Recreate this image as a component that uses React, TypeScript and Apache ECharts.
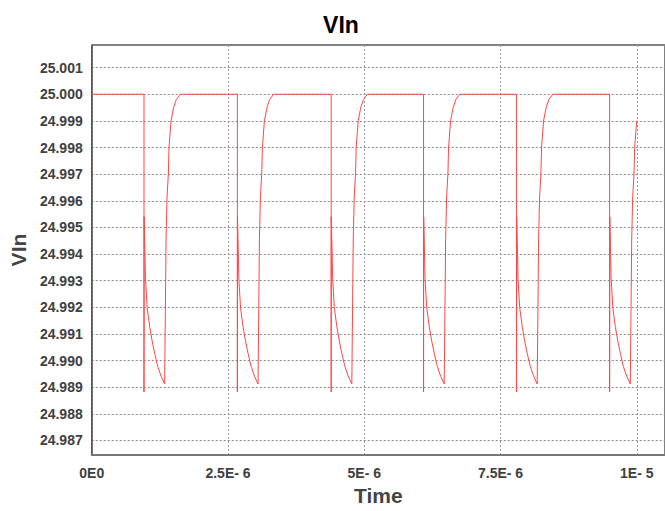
import React, { useEffect, useRef } from "react";
import * as echarts from "echarts";

// Cycle start times (s) where the voltage drops
const cycleStarts = [0.959e-6, 2.672e-6, 4.393e-6, 6.088e-6, 7.794e-6, 9.502e-6];
// Shape of one cycle: offsets (µs) from the drop and the values read there
const cycleOffsetsUs = [0, 0, 0.002, 0.015, 0.027, 0.058, 0.106, 0.149, 0.197, 0.252, 0.314, 0.379, 0.405, 0.423, 0.447, 0.459, 0.496, 0.543, 0.592, 0.665];
const cycleValues = [25.0, 24.98882, 24.9954, 24.99431, 24.99309, 24.99199, 24.99125, 24.99074, 24.99026, 24.98978, 24.98941, 24.98912, 24.99457, 24.99615, 24.997, 24.998, 24.999, 24.9995, 24.9998, 25.0];
const startValue = 25.0;
const endTime = 1e-5;

const xTickValues = [0, 2.5e-6, 5e-6, 7.5e-6, 1e-5];
const xTickLabels = ["0E0", "2.5E- 6", "5E- 6", "7.5E- 6", "1E- 5"];

const FONT = "'Liberation Sans', Arial, sans-serif";

export default function App() {
  const ref = useRef<HTMLDivElement>(null);
  useEffect(() => {
    if (!ref.current) return;
    const chart = echarts.init(ref.current, null, { renderer: "svg" });
    const data: [number, number][] = [[0, startValue]];
    cycleStarts.forEach((s) => {
      cycleOffsetsUs.forEach((o, i) => {
        const t = s + o * 1e-6;
        if (t <= endTime + 1e-12) data.push([t, cycleValues[i]]);
      });
    });
    const plotLeft = 91;
    const plotRight = -3;
    const pxPerSec = 548.6 / 1e-5;
    const plotWidth = 665 - plotLeft - plotRight;
    const xMax = plotWidth / pxPerSec;

    chart.setOption({
      animation: false,
      backgroundColor: "#fff",
      title: {
        text: "VIn",
        left: 336,
        top: 8,
        textAlign: "center",
        textStyle: { fontFamily: FONT, fontWeight: "bold", fontSize: 23, color: "#000" },
      },
      grid: {
        left: plotLeft,
        right: plotRight,
        top: 45,
        bottom: 48,
        show: true,
        borderColor: "#000",
        borderWidth: 1,
        backgroundColor: "#fff",
      },
      xAxis: {
        type: "value",
        min: 0,
        max: xMax,
        interval: 2.5e-6,
        name: "Time",
        nameLocation: "middle",
        nameGap: 27,
        nameTextStyle: { fontFamily: FONT, fontWeight: "bold", fontSize: 21, color: "#444" },
        axisLine: { show: true, lineStyle: { color: "#777", width: 2 } },
        axisTick: { show: false },
        splitLine: { show: true, lineStyle: { color: "#999", type: [2, 2], width: 1 } },
        axisLabel: {
          showMaxLabel: false,
          margin: 11,
          fontFamily: FONT,
          fontWeight: "bold",
          fontSize: 14,
          color: "#404040",
          formatter: (v: number) => {
            const idx = xTickValues.findIndex((t) => Math.abs(t - v) < 1e-9);
            return idx >= 0 ? xTickLabels[idx] : "";
          },
        },
      },
      yAxis: {
        type: "value",
        min: 24.98645,
        max: 25.00185,
        splitNumber: 15,
        name: "VIn",
        nameLocation: "middle",
        nameGap: 62,
        nameTextStyle: { fontFamily: FONT, fontWeight: "bold", fontSize: 21, color: "#444" },
        axisLine: { show: true, lineStyle: { color: "#555", width: 1.5 } },
        axisTick: { show: false },
        splitLine: { show: true, lineStyle: { color: "#888", type: [2, 2], width: 1 } },
        axisLabel: {
          showMinLabel: false,
          showMaxLabel: false,
          margin: 9,
          fontFamily: FONT,
          fontWeight: "bold",
          fontSize: 14,
          color: "#404040",
          formatter: (v: number) => v.toFixed(3),
        },
      },
      series: [
        {
          type: "line",
          data,
          showSymbol: false,
          symbol: "none",
          lineStyle: { color: "#ff4646", width: 1 },
          clip: true,
        },
      ],
    });
    return () => chart.dispose();
  }, []);
  return <div ref={ref} style={{ width: 665, height: 511, position: "absolute", left: 0, top: 0 }} />;
}
